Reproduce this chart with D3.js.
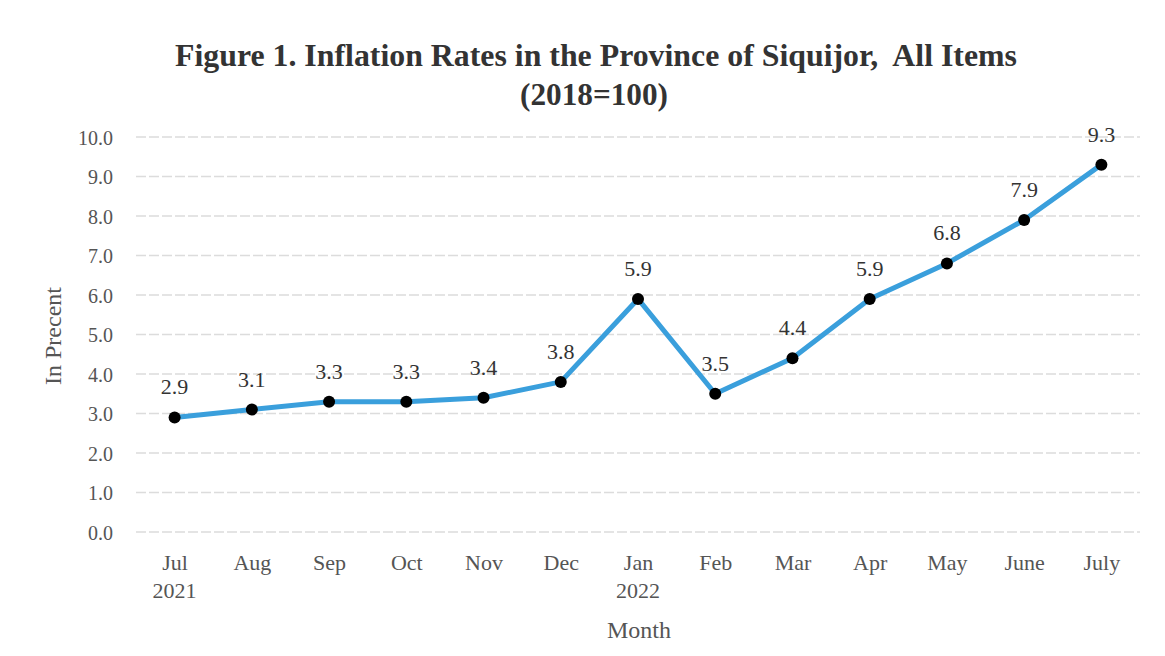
<!DOCTYPE html>
<html>
<head>
<meta charset="utf-8">
<script src="https://cdn.jsdelivr.net/npm/d3@7"></script>
<style>
  body { margin: 0; background: #fff; }
  text { font-family: "Liberation Serif", "Times New Roman", serif; }
</style>
</head>
<body>
<svg id="chart" width="1165" height="656"></svg>
<script>
// Chart data
const months = ["Jul", "Aug", "Sep", "Oct", "Nov", "Dec", "Jan", "Feb", "Mar", "Apr", "May", "June", "July"];
const years = ["2021", "", "", "", "", "", "2022", "", "", "", "", "", ""];
const rates = [2.9, 3.1, 3.3, 3.3, 3.4, 3.8, 5.9, 3.5, 4.4, 5.9, 6.8, 7.9, 9.3];
const yTicks = [0, 1, 2, 3, 4, 5, 6, 7, 8, 9, 10];

const svg = d3.select("#chart");
const margin = { left: 136, right: 1140, top: 137, bottom: 532 };

const x = d3.scalePoint()
    .domain(months)
    .range([margin.left, margin.right])
    .padding(0.5);

const y = d3.scaleLinear()
    .domain([0, 10])
    .range([margin.bottom, margin.top]);

// Title (condensed serif in the original, so stretch to its width)
svg.append("text")
    .attr("x", 596).attr("y", 66)
    .attr("text-anchor", "middle")
    .attr("textLength", 842).attr("lengthAdjust", "spacingAndGlyphs")
    .style("white-space", "pre")
    .style("font-size", "31px").style("font-weight", "bold").style("fill", "#333")
    .text("Figure 1. Inflation Rates in the Province of Siquijor,  All Items");
svg.append("text")
    .attr("x", 594).attr("y", 105)
    .attr("text-anchor", "middle")
    .attr("textLength", 148).attr("lengthAdjust", "spacingAndGlyphs")
    .style("font-size", "31px").style("font-weight", "bold").style("fill", "#333")
    .text("(2018=100)");

// Gridlines
svg.append("g")
    .selectAll("line")
    .data(yTicks)
    .enter().append("line")
    .attr("x1", margin.left).attr("x2", margin.right)
    .attr("y1", d => y(d)).attr("y2", d => y(d))
    .style("stroke", "#dcdcdc")
    .style("stroke-width", "1.5px")
    .style("stroke-dasharray", "10,3");

// Y axis labels
const yAxis = svg.append("g")
    .attr("transform", `translate(${margin.left - 20},0)`)
    .call(d3.axisLeft(y).tickValues(yTicks).tickFormat(d3.format(".1f")).tickSize(0));
yAxis.select(".domain").remove();
yAxis.selectAll("text")
    .style("font-family", "'Liberation Serif', serif")
    .style("font-size", "20px")
    .style("fill", "#555")
    .attr("dy", "0.35em");

// X axis labels
const xAxis = svg.append("g")
    .attr("transform", `translate(0,${margin.bottom + 19})`)
    .call(d3.axisBottom(x).tickSize(0));
xAxis.select(".domain").remove();
xAxis.selectAll("text")
    .style("font-family", "'Liberation Serif', serif")
    .style("font-size", "22px")
    .style("fill", "#555")
    .attr("dy", "0.71em");

svg.append("g")
    .selectAll("text")
    .data(months.map((m, i) => ({ m, yr: years[i] })).filter(d => d.yr))
    .enter().append("text")
    .attr("x", d => x(d.m))
    .attr("y", 598)
    .attr("text-anchor", "middle")
    .style("font-size", "22px").style("fill", "#555")
    .text(d => d.yr);

// Axis titles
svg.append("text")
    .attr("x", 639).attr("y", 638)
    .attr("text-anchor", "middle")
    .style("font-size", "24px").style("fill", "#555")
    .text("Month");
svg.append("text")
    .attr("transform", "translate(61,336) rotate(-90)")
    .attr("text-anchor", "middle")
    .style("font-size", "24px").style("fill", "#555")
    .text("In Precent");

// Line
const line = d3.line()
    .x((d, i) => x(months[i]))
    .y(d => y(d));

svg.append("path")
    .datum(rates)
    .attr("d", line)
    .style("fill", "none")
    .style("stroke", "#3a9fdc")
    .style("stroke-width", "5px")
    .style("stroke-linejoin", "round");

// Points
svg.append("g")
    .selectAll("circle")
    .data(rates)
    .enter().append("circle")
    .attr("cx", (d, i) => x(months[i]))
    .attr("cy", d => y(d))
    .attr("r", 6)
    .style("fill", "#000");

// Value labels
svg.append("g")
    .selectAll("text")
    .data(rates)
    .enter().append("text")
    .attr("x", (d, i) => x(months[i]))
    .attr("y", d => y(d) - 23)
    .attr("text-anchor", "middle")
    .style("font-size", "22px").style("fill", "#333")
    .text(d => d3.format(".1f")(d));
</script>
</body>
</html>
